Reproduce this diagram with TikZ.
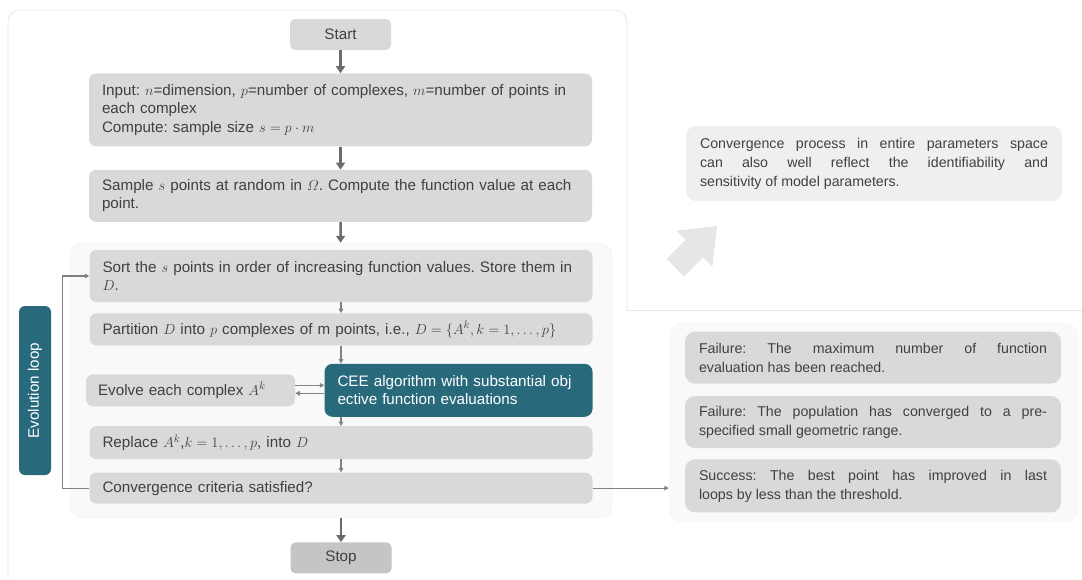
\documentclass[tikz,border=0pt]{standalone}
\usepackage{amsmath}
\usepackage{fontspec}
\setmainfont{Liberation Sans}
\usetikzlibrary{positioning, arrows.meta, calc}
\frenchspacing

\definecolor{boxgray}{HTML}{D9D9D9}
\definecolor{stopgray}{HTML}{C5C5C5}
\definecolor{notegray}{HTML}{EFEFEF}
\definecolor{framegray}{HTML}{F9F9F9}
\definecolor{bigarrow}{HTML}{E6E6E6}
\definecolor{ceeteal}{HTML}{286A7B}
\definecolor{txtgray}{HTML}{404040}
\definecolor{arrowgray}{HTML}{6B6B6B}

\begin{document}
\begin{tikzpicture}[x=1pt, y=-1pt,
    font=\fontsize{15.2}{18.5}\selectfont,
    box/.style={rectangle, rounded corners=7pt, fill=boxgray, text=txtgray,
        inner xsep=13pt, inner ysep=0pt, text width=477pt, align=left},
    term/.style={rectangle, rounded corners=5pt, fill=boxgray, text=txtgray,
        minimum width=101pt, minimum height=31pt},
    tealbox/.style={rectangle, rounded corners=8pt, fill=ceeteal, text=white,
        inner xsep=13pt, inner ysep=0pt, text width=242pt, align=left},
    notebox/.style={rectangle, rounded corners=10pt, text=txtgray,
        font=\fontsize{14.2}{19}\selectfont,
        inner xsep=14pt, inner ysep=0pt, text width=348pt, align=justify},
    flow/.style={draw=arrowgray, line width=2.4pt, -{Triangle[length=7pt,width=9pt]}},
    thin/.style={draw=arrowgray!85, line width=1.1pt, -{Triangle[length=4.5pt,width=4.5pt]}},
    ]
    \useasboundingbox (0,0) rectangle (1082,579);

    % outer frame and background panels
    \draw[black!10, line width=0.8pt, rounded corners=12pt]
        (8,579) -- (8,10) -- (627,10) -- (627,310);
    \draw[black!10, line width=0.8pt] (627,310) -- (1082,310);
    \node[rectangle, rounded corners=12pt, fill=framegray, draw=black!6,
        minimum width=542pt, minimum height=275pt] (loopframe) at (341,380.5) {};
    \node[rectangle, rounded corners=14pt, fill=framegray, draw=black!4,
        minimum width=409pt, minimum height=199pt] (critframe) at (873.5,422.5) {};

    % main flow
    \node[term] (start) at (340.5,34.5) {Start};
    \node[box, minimum height=73pt, below=23pt of start] (input)
        {Input: $n$=dimension, $p$=number of complexes, $m$=number of points in\\
         each complex\\
         Compute: sample size $s=p\cdot m$};
    \node[box, minimum height=52pt, below=23pt of input] (sample)
        {Sample $s$ points at random in $\varOmega$. Compute the function value at each\\
         point.};
    \node[box, minimum height=52pt, below=7pt of loopframe.north] (sort)
        {Sort the $s$ points in order of increasing function values. Store them in\\
         $D$.};
    \node[box, minimum height=32pt, below=11pt of sort] (partition)
        {Partition $D$ into $p$ complexes of m points, i.e., $D=\{A^k,k=1,\dots,p\}$};
    \node[tealbox, minimum height=53pt,
        below left=18pt and 0pt of partition.south east] (cee)
        {CEE algorithm with substantial obj\\ective function evaluations};
    \node[box, text width=185pt, inner xsep=12pt, minimum height=32pt,
        left=29pt of cee] (evolve) {Evolve each complex $A^k$};
    \node[box, minimum height=33pt, below left=9pt and 0pt of cee.south east] (replace)
        {Replace $A^k$,$k=1,\dots,p$, into $D$};
    \node[box, minimum height=31pt, below=13pt of replace] (conv)
        {Convergence criteria satisfied?};
    \node[term, fill=stopgray, below=24pt of loopframe.south] (stop) {Stop};

    \node[rectangle, rounded corners=6pt, fill=ceeteal, text=white, rotate=90,
        minimum width=169pt, minimum height=32pt] (loop) at (35,390.5) {Evolution loop};

    % right side
    \node[notebox, fill=notegray, minimum height=75pt] (note) at (874,163.5)
        {Convergence process in entire parameters space\linebreak
         can also well reflect the identifiability and\linebreak
         sensitivity of model parameters.};
    \node[notebox, fill=boxgray, minimum height=52pt] (fail2) at (873,422)
        {Failure: The population has converged to a pre-\linebreak{}specified small geometric range.};
    \node[notebox, fill=boxgray, minimum height=52pt, above=12pt of fail2] (fail1)
        {Failure: The maximum number of function\linebreak
         evaluation has been reached.};
    \node[notebox, fill=boxgray, minimum height=53pt, below=11pt of fail2] (succ)
        {Success: The best point has improved in last\linebreak
         loops by less than the threshold.};

    \fill[bigarrow] (717,226) -- (712.4,266.6) -- (703.2,257.4) -- (684.1,276.5)
        -- (666.5,258.9) -- (685.6,239.8) -- (676.4,230.6) -- cycle;

    % connectors
    \draw[flow] (start) -- (input);
    \draw[flow] (input) -- (sample);
    \draw[flow] (sample) -- (loopframe);
    \draw[flow] (loopframe) -- (stop);
    \draw[thin] (sort) -- (partition);
    \draw[thin] (partition.south -| sort.south) -- (partition.south |- cee.north);
    \draw[thin] (partition.south |- cee.south) -- (replace.north -| partition.south);
    \draw[thin] (replace) -- (conv);
    \draw[thin] ($(evolve.east)+(0,-5)$) -- ($(evolve.east -| cee.west)+(0,-5)$);
    \draw[thin] ($(evolve.east -| cee.west)+(0,3)$) -- ($(evolve.east)+(0,3)$);
    \draw[thin] (conv.west) -- ++(-27,0) |- (sort.west);
    \draw[thin] (conv.east) -- (conv.east -| critframe.west);
\end{tikzpicture}
\end{document}
